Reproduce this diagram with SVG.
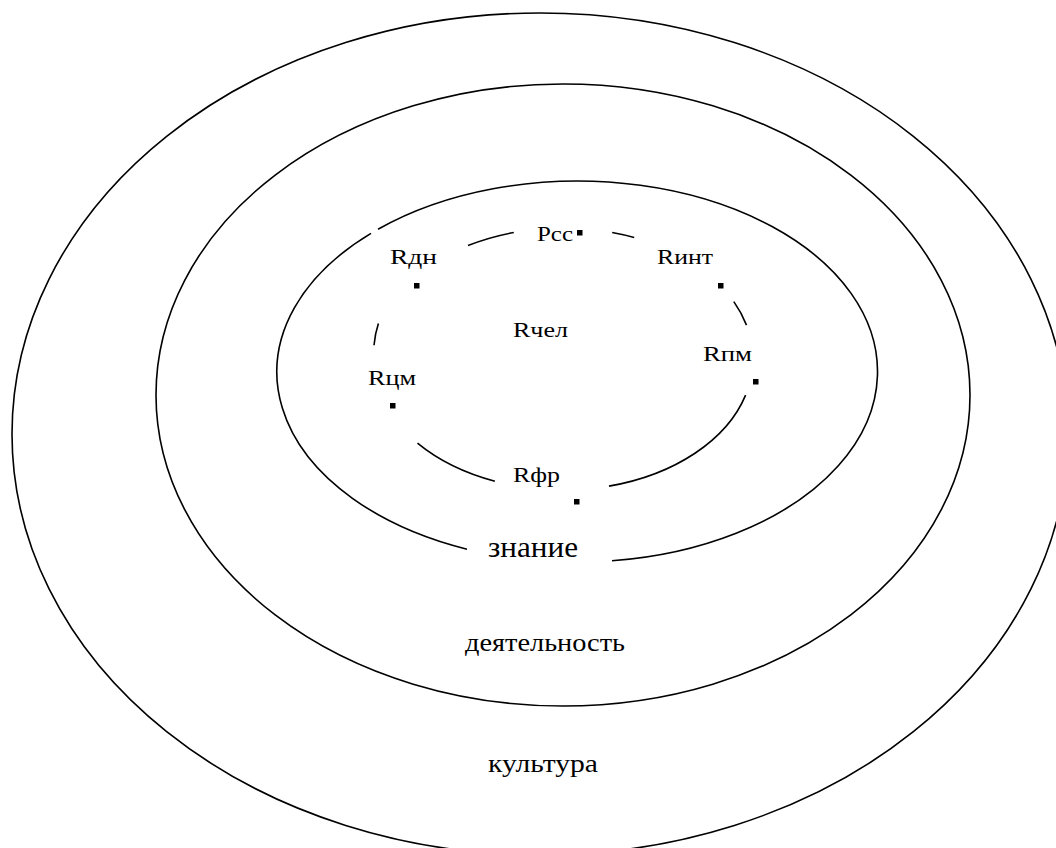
<svg xmlns="http://www.w3.org/2000/svg" width="1056" height="848" viewBox="0 0 1056 848">
<style>
.ln{fill:none;stroke:#000;stroke-width:1.6}
.t{font-family:"Liberation Serif","Times New Roman",serif;fill:#000}
.s{font-size:22px}
.m{font-size:26px}
.dot{fill:#000}
</style>
<rect width="1056" height="848" fill="#fff"/>
<g id="outer-culture">
<ellipse class="ln" cx="540" cy="434" rx="528" ry="421"/>
<text class="t m" x="488" y="772" textLength="110" lengthAdjust="spacingAndGlyphs">культура</text>
</g>
<g id="middle-activity">
<ellipse class="ln" cx="563" cy="395" rx="407" ry="311"/>
<text class="t m" x="465" y="651" textLength="160" lengthAdjust="spacingAndGlyphs">деятельность</text>
</g>
<g id="inner-knowledge">
<path class="ln" d="M378,229.3 A300,190.5 0 1 1 612,560.8"/>
<path class="ln" d="M467,549.2 A300,190.5 0 0 1 371,233.4"/>
<text class="t" style="font-size:29px" x="488" y="557" textLength="90" lengthAdjust="spacingAndGlyphs">знание</text>
</g>
<g id="connectors">
<path class="ln" d="M468,245.6 A190,131 0 0 1 513.8,232.5"/>
<path class="ln" d="M612.2,232.5 A190,131 0 0 1 634.2,237.5"/>
<path class="ln" d="M733.8,301.6 A190,131 0 0 1 746.5,325.1"/>
<path class="ln" d="M745.6,395.1 A190,131 0 0 1 609,486.1"/>
<path class="ln" d="M494.9,481.3 A190,131 0 0 1 417.5,443.2"/>
<path class="ln" d="M374,345.3 A190,131 0 0 1 378.4,323.5"/>
</g>
<g id="node-rss">
<text class="t s" x="537" y="241" textLength="36" lengthAdjust="spacingAndGlyphs">Рсс</text>
<rect class="dot" x="577" y="230" width="5.5" height="5.5"/>
</g>
<g id="node-rdn">
<text class="t s" x="390" y="264" textLength="47" lengthAdjust="spacingAndGlyphs">Rдн</text>
<rect class="dot" x="414" y="283" width="5.5" height="5.5"/>
</g>
<g id="node-rint">
<text class="t s" x="657" y="264" textLength="56" lengthAdjust="spacingAndGlyphs">Rинт</text>
<rect class="dot" x="718" y="283" width="5.5" height="5.5"/>
</g>
<g id="node-rchel">
<text class="t s" x="513" y="337" textLength="55" lengthAdjust="spacingAndGlyphs">Rчел</text>
</g>
<g id="node-rcm">
<text class="t s" x="368" y="385" textLength="48" lengthAdjust="spacingAndGlyphs">Rцм</text>
<rect class="dot" x="390" y="403" width="5.5" height="5.5"/>
</g>
<g id="node-rpm">
<text class="t s" x="703" y="361" textLength="49" lengthAdjust="spacingAndGlyphs">Rпм</text>
<rect class="dot" x="753" y="379" width="5.5" height="5.5"/>
</g>
<g id="node-rfr">
<text class="t s" x="513" y="482" textLength="47" lengthAdjust="spacingAndGlyphs">Rфр</text>
<rect class="dot" x="574" y="499" width="5.5" height="5.5"/>
</g>
</svg>
